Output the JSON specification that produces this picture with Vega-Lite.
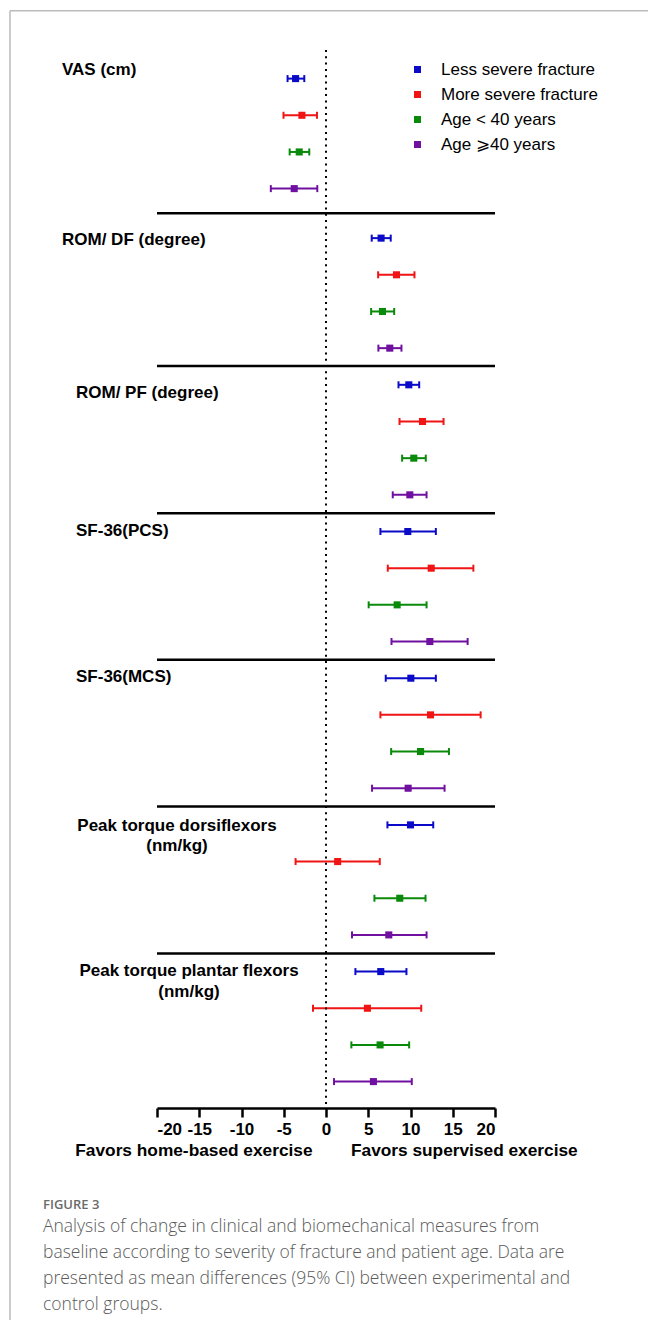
{
  "$schema": "https://vega.github.io/schema/vega-lite/v6.json",
  "width": 338,
  "height": 1058,
  "autosize": {"type": "none"},
  "padding": {"left": 157, "top": 50, "right": 153, "bottom": 212},
  "background": "white",
  "config": {
    "view": {"stroke": null},
    "font": "Liberation Sans"
  },
  "title": {
    "text": "FIGURE 3",
    "subtitle": [
      "Analysis of change in clinical and biomechanical measures from",
      "baseline according to severity of fracture and patient age. Data are",
      "presented as mean differences (95% CI) between experimental and",
      "control groups."
    ],
    "orient": "bottom",
    "anchor": "start",
    "frame": "group",
    "offset": -122,
    "dx": -114,
    "font": "Open Sans",
    "fontSize": 13,
    "fontWeight": 600,
    "color": "#6a6a6a",
    "subtitleFont": "Open Sans",
    "subtitleFontSize": 17.5,
    "subtitleFontWeight": 300,
    "subtitleColor": "#5a5a5a",
    "subtitleLineHeight": 26,
    "subtitlePadding": 6
  },
  "data": {
    "values": [
      {"kind": "zero", "zero": 0},
      {"kind": "sep", "pos": 3.67}, {"kind": "sep", "pos": 7.84}, {"kind": "sep", "pos": 11.85},
      {"kind": "sep", "pos": 15.85}, {"kind": "sep", "pos": 19.85}, {"kind": "sep", "pos": 23.86},
      {"kind": "labA", "label": "VAS (cm)", "pos": -0.24},
      {"kind": "labA", "label": "ROM/ DF (degree)", "pos": 4.4},
      {"kind": "labB", "label": "ROM/ PF (degree)", "pos": 8.57},
      {"kind": "labB", "label": "SF-36(PCS)", "pos": 12.34},
      {"kind": "labB", "label": "SF-36(MCS)", "pos": 16.32},
      {"kind": "labC", "label": "Peak torque dorsiflexors", "pos": 20.38},
      {"kind": "labC", "label": "(nm/kg)", "pos": 20.92},
      {"kind": "labD", "label": "Peak torque plantar flexors", "pos": 24.33},
      {"kind": "labD", "label": "(nm/kg)", "pos": 24.9},
      {"kind": "est", "measure": "VAS (cm)", "group": "Less severe fracture", "pos": 0, "mean": -3.6, "lo": -4.55, "hi": -2.57},
      {"kind": "est", "measure": "VAS (cm)", "group": "More severe fracture", "pos": 1, "mean": -2.85, "lo": -5.03, "hi": -1.07},
      {"kind": "est", "measure": "VAS (cm)", "group": "Age < 40 years", "pos": 2, "mean": -3.17, "lo": -4.3, "hi": -1.98},
      {"kind": "est", "measure": "VAS (cm)", "group": "Age ⩾40 years", "pos": 3, "mean": -3.76, "lo": -6.53, "hi": -1.03},
      {"kind": "est", "measure": "ROM/ DF (degree)", "group": "Less severe fracture", "pos": 4.35, "mean": 6.52, "lo": 5.41, "hi": 7.66},
      {"kind": "est", "measure": "ROM/ DF (degree)", "group": "More severe fracture", "pos": 5.35, "mean": 8.34, "lo": 6.17, "hi": 10.47},
      {"kind": "est", "measure": "ROM/ DF (degree)", "group": "Age < 40 years", "pos": 6.35, "mean": 6.68, "lo": 5.34, "hi": 8.07},
      {"kind": "est", "measure": "ROM/ DF (degree)", "group": "Age ⩾40 years", "pos": 7.35, "mean": 7.55, "lo": 6.2, "hi": 8.93},
      {"kind": "est", "measure": "ROM/ PF (degree)", "group": "Less severe fracture", "pos": 8.35, "mean": 9.8, "lo": 8.58, "hi": 11.03},
      {"kind": "est", "measure": "ROM/ PF (degree)", "group": "More severe fracture", "pos": 9.35, "mean": 11.42, "lo": 8.7, "hi": 13.91},
      {"kind": "est", "measure": "ROM/ PF (degree)", "group": "Age < 40 years", "pos": 10.35, "mean": 10.39, "lo": 9.01, "hi": 11.81},
      {"kind": "est", "measure": "ROM/ PF (degree)", "group": "Age ⩾40 years", "pos": 11.35, "mean": 9.92, "lo": 7.9, "hi": 11.9},
      {"kind": "est", "measure": "SF-36(PCS)", "group": "Less severe fracture", "pos": 12.35, "mean": 9.68, "lo": 6.44, "hi": 13.0},
      {"kind": "est", "measure": "SF-36(PCS)", "group": "More severe fracture", "pos": 13.35, "mean": 12.45, "lo": 7.31, "hi": 17.44},
      {"kind": "est", "measure": "SF-36(PCS)", "group": "Age < 40 years", "pos": 14.35, "mean": 8.42, "lo": 5.05, "hi": 11.9},
      {"kind": "est", "measure": "SF-36(PCS)", "group": "Age ⩾40 years", "pos": 15.35, "mean": 12.29, "lo": 7.75, "hi": 16.76},
      {"kind": "est", "measure": "SF-36(MCS)", "group": "Less severe fracture", "pos": 16.35, "mean": 10.04, "lo": 7.07, "hi": 13.0},
      {"kind": "est", "measure": "SF-36(MCS)", "group": "More severe fracture", "pos": 17.35, "mean": 12.37, "lo": 6.44, "hi": 18.3},
      {"kind": "est", "measure": "SF-36(MCS)", "group": "Age < 40 years", "pos": 18.35, "mean": 11.19, "lo": 7.71, "hi": 14.55},
      {"kind": "est", "measure": "SF-36(MCS)", "group": "Age ⩾40 years", "pos": 19.35, "mean": 9.72, "lo": 5.45, "hi": 14.03},
      {"kind": "est", "measure": "Peak torque dorsiflexors", "group": "Less severe fracture", "pos": 20.35, "mean": 10.0, "lo": 7.27, "hi": 12.69},
      {"kind": "est", "measure": "Peak torque dorsiflexors", "group": "More severe fracture", "pos": 21.35, "mean": 1.38, "lo": -3.6, "hi": 6.36},
      {"kind": "est", "measure": "Peak torque dorsiflexors", "group": "Age < 40 years", "pos": 22.35, "mean": 8.73, "lo": 5.73, "hi": 11.78},
      {"kind": "est", "measure": "Peak torque dorsiflexors", "group": "Age ⩾40 years", "pos": 23.35, "mean": 7.43, "lo": 3.08, "hi": 11.9},
      {"kind": "est", "measure": "Peak torque plantar flexors", "group": "Less severe fracture", "pos": 24.35, "mean": 6.48, "lo": 3.48, "hi": 9.52},
      {"kind": "est", "measure": "Peak torque plantar flexors", "group": "More severe fracture", "pos": 25.35, "mean": 4.9, "lo": -1.54, "hi": 11.27},
      {"kind": "est", "measure": "Peak torque plantar flexors", "group": "Age < 40 years", "pos": 26.35, "mean": 6.4, "lo": 3.0, "hi": 9.84},
      {"kind": "est", "measure": "Peak torque plantar flexors", "group": "Age ⩾40 years", "pos": 27.35, "mean": 5.61, "lo": 0.95, "hi": 10.15}
    ]
  },
  "layer": [
    {
      "transform": [{"filter": "datum.kind == 'est'"}],
      "mark": {"type": "rule", "strokeWidth": 2},
      "encoding": {
        "x": {"field": "lo", "type": "quantitative",
              "scale": {"domain": [-20, 20], "nice": false, "zero": false},
              "axis": {
                "title": "Favors home-based exercise\u00a0\u00a0\u00a0\u00a0\u00a0\u00a0\u00a0\u00a0Favors supervised exercise",
                "values": [-20, -15, -10, -5, 0, 5, 10, 15, 20],
                "labelExpr": "'' + datum.value",
                "grid": false,
                "domainColor": "black", "domainWidth": 2.5, "tickColor": "black", "tickWidth": 2.5, "tickSize": 9,
                "labelFont": "Liberation Sans", "labelFontSize": 17, "labelFontWeight": "bold", "labelColor": "black",
                "labelPadding": 4,
                "titleFont": "Liberation Sans", "titleFontSize": 17.3, "titleFontWeight": "bold", "titleColor": "black",
                "titlePadding": 4
              }},
        "x2": {"field": "hi"},
        "y": {"field": "pos", "type": "quantitative", "scale": {"domain": [-0.78, 28.07], "reverse": true, "nice": false, "zero": false}, "axis": null},
        "color": {
          "field": "group", "type": "nominal",
          "scale": {
            "domain": ["Less severe fracture", "More severe fracture", "Age < 40 years", "Age ⩾40 years"],
            "range": ["#0a0ac8", "#f01414", "#0a8a0a", "#7010a0"]
          },
          "legend": {
            "title": null, "orient": "none", "legendX": 252, "legendY": 11, "padding": 0,
            "symbolType": "square", "symbolSize": 30, "symbolFillColor": null,
            "labelFont": "Liberation Sans", "labelFontSize": 17, "labelColor": "black",
            "labelOffset": 15, "rowPadding": 7
          }
        }
      }
    },
    {
      "transform": [{"filter": "datum.kind == 'zero'"}],
      "mark": {"type": "rule", "color": "#bbbbbb", "strokeWidth": 1.5},
      "encoding": {
        "x": {"datum": -37.4, "type": "quantitative"},
        "y": {"datum": -1.85, "type": "quantitative"},
        "y2": {"datum": 33.85}
      }
    },
    {
      "transform": [{"filter": "datum.kind == 'zero'"}],
      "mark": {"type": "rule", "color": "#bbbbbb", "strokeWidth": 1.5},
      "encoding": {
        "x": {"datum": -37.4, "type": "quantitative"},
        "x2": {"datum": 60},
        "y": {"datum": -1.85, "type": "quantitative"}
      }
    },
    {
      "transform": [{"filter": "datum.kind == 'zero'"}],
      "mark": {"type": "rule", "color": "black", "strokeWidth": 2, "strokeDash": [2, 4.3]},
      "encoding": {
        "x": {"field": "zero", "type": "quantitative"}
      }
    },
    {
      "transform": [{"filter": "datum.kind == 'sep'"}],
      "mark": {"type": "rule", "color": "black", "strokeWidth": 2.5},
      "encoding": {
        "y": {"field": "pos", "type": "quantitative"}
      }
    },
    {
      "transform": [{"filter": "datum.kind == 'est'"}],
      "mark": {"type": "tick", "orient": "vertical", "size": 7, "thickness": 2, "opacity": 1},
      "encoding": {
        "x": {"field": "lo", "type": "quantitative"},
        "y": {"field": "pos", "type": "quantitative"},
        "color": {"field": "group", "type": "nominal"}
      }
    },
    {
      "transform": [{"filter": "datum.kind == 'est'"}],
      "mark": {"type": "tick", "orient": "vertical", "size": 7, "thickness": 2, "opacity": 1},
      "encoding": {
        "x": {"field": "hi", "type": "quantitative"},
        "y": {"field": "pos", "type": "quantitative"},
        "color": {"field": "group", "type": "nominal"}
      }
    },
    {
      "transform": [{"filter": "datum.kind == 'est'"}],
      "mark": {"type": "square", "size": 50, "filled": true, "opacity": 1},
      "encoding": {
        "x": {"field": "mean", "type": "quantitative"},
        "y": {"field": "pos", "type": "quantitative"},
        "color": {"field": "group", "type": "nominal"}
      }
    },
    {
      "transform": [{"filter": "datum.kind == 'labA'"}],
      "mark": {"type": "text", "align": "left", "baseline": "middle", "dx": -264, "fontSize": 17, "fontWeight": "bold", "color": "black"},
      "encoding": {
        "y": {"field": "pos", "type": "quantitative"},
        "text": {"field": "label"}
      }
    },
    {
      "transform": [{"filter": "datum.kind == 'labB'"}],
      "mark": {"type": "text", "align": "left", "baseline": "middle", "dx": -250, "fontSize": 17, "fontWeight": "bold", "color": "black"},
      "encoding": {
        "y": {"field": "pos", "type": "quantitative"},
        "text": {"field": "label"}
      }
    },
    {
      "transform": [{"filter": "datum.kind == 'labC'"}],
      "mark": {"type": "text", "align": "center", "baseline": "middle", "dx": -149, "fontSize": 17, "fontWeight": "bold", "color": "black"},
      "encoding": {
        "y": {"field": "pos", "type": "quantitative"},
        "text": {"field": "label"}
      }
    },
    {
      "transform": [{"filter": "datum.kind == 'labD'"}],
      "mark": {"type": "text", "align": "center", "baseline": "middle", "dx": -137, "fontSize": 17, "fontWeight": "bold", "color": "black"},
      "encoding": {
        "y": {"field": "pos", "type": "quantitative"},
        "text": {"field": "label"}
      }
    }
  ]
}
